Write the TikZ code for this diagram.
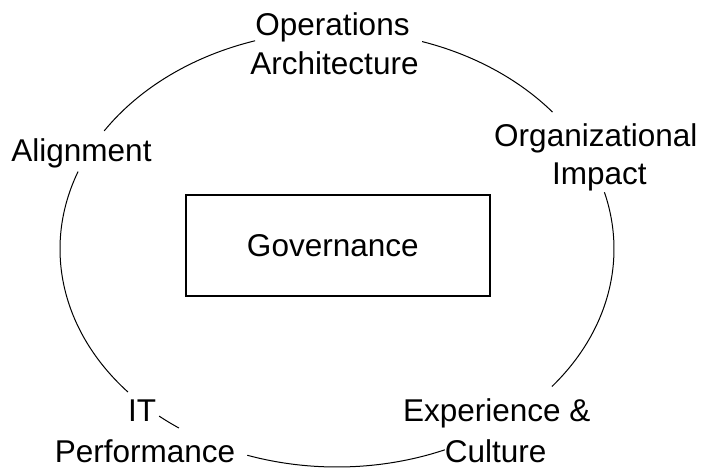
\documentclass[tikz,border=0pt]{standalone}
\usepackage{fontspec}
\setmainfont{Liberation Sans}
\begin{document}
\begin{tikzpicture}[x=0.5pt,y=0.5pt,
  lbl/.style={anchor=base, inner sep=0pt, font=\fontsize{15.75pt}{19pt}\selectfont},
  ring/.style={line width=0.5pt},
  govbox/.style={draw, line width=0.6pt, inner sep=0pt,
                 minimum width=152pt, minimum height=50.5pt}]
  % canvas
  \useasboundingbox[fill=white] (0,0) rectangle (703,468);

  % centre of the surrounding ellipse
  \coordinate (c) at (337,219);

  % the ellipse, broken where the labels sit
  \foreach \s/\e in {38.9/72.1, 107.2/147.2, 159.2/221.0, 230.05/235.2,
                     251.1/292.9, 320.9/375.1}
    \draw[ring] (c) ++(\s:138.5pt and 109pt)
      arc[start angle=\s, end angle=\e, x radius=138.5pt, y radius=109pt];

  % central box
  \node[govbox] (box) at (338,222.5) {};
  \node[lbl] (gov) at (332.8,212) {Governance};

  % labels around the ellipse
  \node[lbl] (opsA)  at (332.5,433)   {Operations};
  \node[lbl] (opsB)  at (334.5,394)   {Architecture};
  \node[lbl] (orgA)  at (595.8,321.3) {Organizational};
  \node[lbl] (orgB)  at (599.3,284)   {Impact};
  \node[lbl] (algn)  at (81.5,306.3)  {Alignment};
  \node[lbl] (expA)  at (496.8,46.3)  {Experience \&};
  \node[lbl] (expB)  at (495.7,6)     {Culture};
  \node[lbl] (itA)   at (142,46.3)    {IT};
  \node[lbl] (itB)   at (145,6)       {Performance};
\end{tikzpicture}
\end{document}
